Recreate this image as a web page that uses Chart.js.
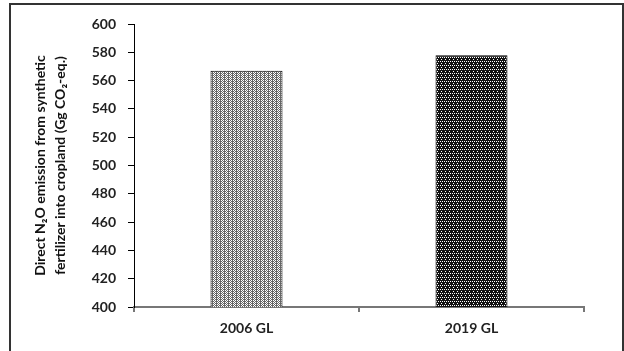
<!DOCTYPE html>
<html>
<head>
    <title>Direct N2O emission</title>
    <script src="https://cdn.jsdelivr.net/npm/chart.js"></script>
    <style>
        body { margin: 0; background: #fff; }
        #frame { position: absolute; left: 9px; top: 3px; width: 611px; height: 360px; border: 2px solid #333; border-bottom: none; }
        #wrap { position: absolute; left: 0; top: 0; width: 624px; height: 351px; }
    </style>
</head>
<body>
    <div id="frame"></div>
    <div id="wrap"><canvas id="grafico" width="624" height="351"></canvas></div>
    <script>
        const categorias = ['2006 GL', '2019 GL'];
        const emissoes = [567, 578];
        const yMin = 400, yMax = 600, yPasso = 20;
        const tituloY = ['Direct N\u2082O emission from synthetic', 'fertilizer into cropland (Gg CO\u2082-eq.)'];

        // padroes de preenchimento das barras
        function padrao(fundo, tinta, pontos) {
            const c = document.createElement('canvas');
            c.width = 4; c.height = 4;
            const g = c.getContext('2d');
            g.fillStyle = fundo;
            g.fillRect(0, 0, 4, 4);
            g.fillStyle = tinta;
            pontos.forEach(p => g.fillRect(p[0], p[1], 1, 1));
            return g.createPattern(c, 'repeat');
        }
        const ctx = document.getElementById('grafico').getContext('2d');
        const claro = padrao('#ffffff', '#666666', [[0,0],[2,0],[1,1],[3,1],[0,2],[2,2],[1,3],[3,3],[0,1],[0,3]]);
        const escuro = padrao('#111111', '#ffffff', [[0,1],[2,1],[1,3]]);
        const fonte = { family: 'Lato', size: 14, weight: 'bold' };

        new Chart(ctx, {
            type: 'bar',
            data: {
                labels: categorias,
                datasets: [{
                    data: emissoes,
                    backgroundColor: [claro, escuro],
                    borderColor: '#000',
                    borderWidth: 1,
                    categoryPercentage: 1,
                    barPercentage: 0.32
                }]
            },
            options: {
                responsive: false,
                animation: false,
                devicePixelRatio: 1,
                layout: { padding: { top: 24, right: 40, left: 0, bottom: 0 } },
                plugins: { legend: { display: false }, tooltip: { enabled: false } },
                scales: {
                    x: {
                        grid: { offset: true, drawOnChartArea: false, tickLength: 5, color: '#777', lineWidth: 2 },
                        border: { color: '#777', width: 2 },
                        ticks: { color: '#222', font: fonte, padding: 8 },
                        afterFit: s => { s.height = 44; }
                    },
                    y: {
                        min: yMin,
                        max: yMax,
                        grid: { drawOnChartArea: false, tickLength: 6, color: '#000' },
                        border: { color: '#000', width: 1 },
                        ticks: { stepSize: yPasso, autoSkip: false, color: '#222', font: fonte, padding: 12 },
                        title: {
                            display: true,
                            text: tituloY,
                            color: '#111',
                            font: { family: 'Lato', size: 14, weight: 'bold', lineHeight: 1.45 },
                            padding: { top: 30, bottom: 0 }
                        },
                        afterFit: s => { s.width = 134; }
                    }
                }
            }
        });
    </script>
</body>
</html>
